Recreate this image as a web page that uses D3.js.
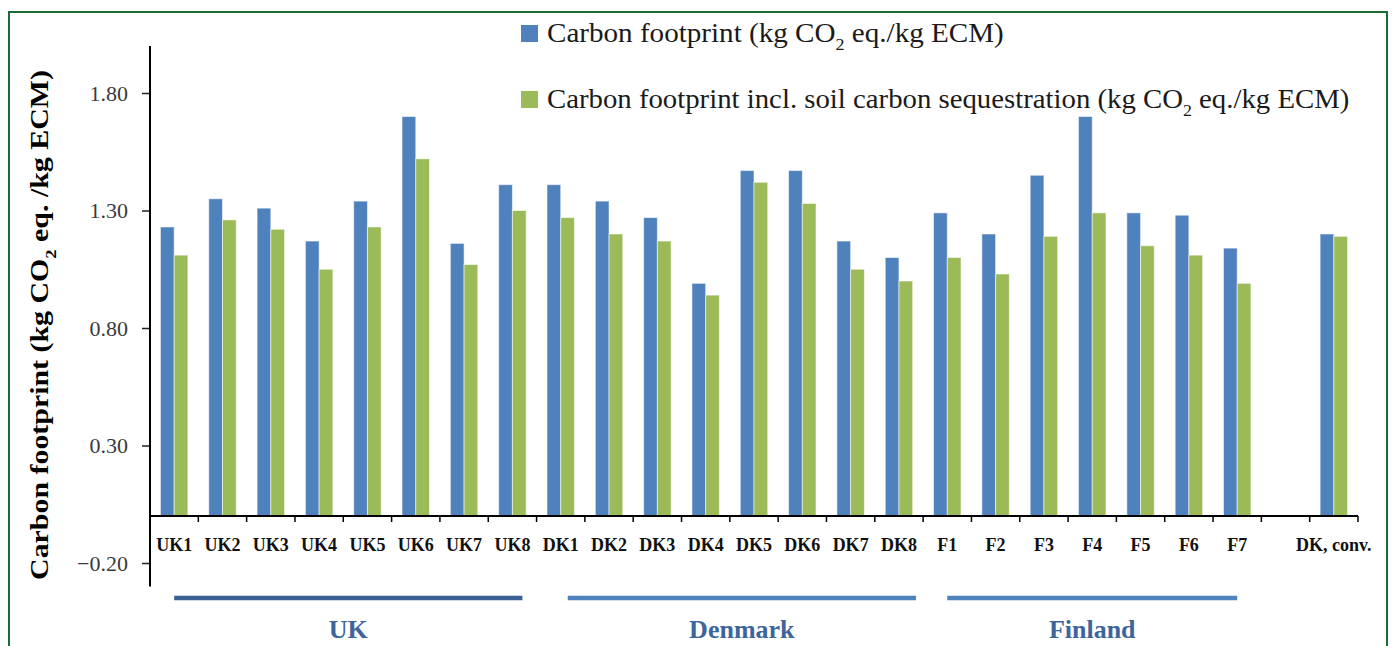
<!DOCTYPE html>
<html>
<head>
<meta charset="utf-8">
<script src="https://cdn.jsdelivr.net/npm/d3@7"></script>
<style>
  body { margin: 0; background: #fff; }
</style>
</head>
<body>
<div id="vis"></div>
<script>
// ----------------
// 1. Data
// ----------------
const categories = ["UK1", "UK2", "UK3", "UK4", "UK5", "UK6", "UK7", "UK8",
    "DK1", "DK2", "DK3", "DK4", "DK5", "DK6", "DK7", "DK8",
    "F1", "F2", "F3", "F4", "F5", "F6", "F7", "", "DK, conv."];

const footprint = [1.23, 1.35, 1.31, 1.17, 1.34, 1.70, 1.16, 1.41,
    1.41, 1.34, 1.27, 0.99, 1.47, 1.47, 1.17, 1.10,
    1.29, 1.20, 1.45, 1.70, 1.29, 1.28, 1.14, null, 1.20];

const footprintSoil = [1.11, 1.26, 1.22, 1.05, 1.23, 1.52, 1.07, 1.30,
    1.27, 1.20, 1.17, 0.94, 1.42, 1.33, 1.05, 1.00,
    1.10, 1.03, 1.19, 1.29, 1.15, 1.11, 0.99, null, 1.19];

const seriesNames = ["Carbon footprint", "Carbon footprint incl. soil carbon sequestration"];
const yTicks = [-0.2, 0.3, 0.8, 1.3, 1.8];

const groupNames = ["UK", "Denmark", "Finland"];
const groupFirst = [0, 8, 16];
const groupLast = [7, 15, 22];

// ----------------
// 2. Dimensions
// ----------------
const width = 1394, height = 646;
const FONT = '"Liberation Serif", "Times New Roman", serif';
const colors = ["#4F81BD", "#9BBB59"];
const groupLineColors = ["#3A6294", "#4F81BD", "#4F81BD"];
// hand-drawn bracket lines do not hit category centres exactly
const groupOffsets = [[0, 10], [7, 17], [0, 0]];

const svg = d3.select("#vis")
    .append("svg")
    .attr("width", width)
    .attr("height", height);

// frame
svg.append("rect")
    .attr("x", 9).attr("y", 12)
    .attr("width", 1378).attr("height", 700)
    .attr("fill", "none")
    .attr("stroke", "#1d6b35")
    .attr("stroke-width", 2);

// ----------------
// 3. Scales
// ----------------
const idx = categories.map((d, i) => i);
const x = d3.scaleBand().domain(idx).range([150, 1358]);
const x1 = d3.scaleBand().domain([0, 1]).range([0, x.bandwidth()]).paddingOuter(0.76);
const y = d3.scaleLinear().domain([-0.2, 2.0]).range([563, 46]);

// ----------------
// 4. Bars
// ----------------
const rows = idx.map(i => [footprint[i], footprintSoil[i]]);

svg.append("g").selectAll("g")
    .data(rows)
    .join("g")
    .attr("transform", (d, i) => `translate(${x(i)},0)`)
    .selectAll("rect")
    .data(d => d.map((v, s) => ({v, s})).filter(e => e.v != null))
    .join("rect")
    .attr("x", d => x1(d.s))
    .attr("width", x1.bandwidth())
    .attr("y", d => y(d.v))
    .attr("height", d => y(0) - y(d.v))
    .attr("fill", d => colors[d.s])
    .attr("stroke", "rgba(255,255,255,0.55)")
    .attr("stroke-width", 1);

// ----------------
// 5. Axes
// ----------------
const yAxis = svg.append("g")
    .attr("transform", "translate(150,0)")
    .call(d3.axisLeft(y).tickValues(yTicks).tickSize(8).tickPadding(14)
        .tickFormat(d => d < 0 ? "\u2212" + Math.abs(d).toFixed(2) : d.toFixed(2)));
yAxis.select(".domain").remove();
yAxis.selectAll("line").attr("stroke", "#222").attr("stroke-width", 1.5);
yAxis.selectAll("text")
    .attr("fill", "#3a3a3a")
    .style("font-size", "22px")
    .style("font-family", FONT);
svg.append("line")
    .attr("x1", 150).attr("x2", 150)
    .attr("y1", y(2.0)).attr("y2", y(-0.3))
    .attr("stroke", "#000").attr("stroke-width", 2);

// category axis at zero
const xAxis = svg.append("g")
    .attr("transform", `translate(0,${y(0)})`);
xAxis.append("line")
    .attr("x1", 150).attr("x2", 1358)
    .attr("stroke", "#000").attr("stroke-width", 2);
xAxis.selectAll(".tk")
    .data(idx.map(i => i + 1))
    .join("line")
    .attr("class", "tk")
    .attr("x1", i => x(i - 1) + x.bandwidth())
    .attr("x2", i => x(i - 1) + x.bandwidth())
    .attr("y1", 0).attr("y2", 6)
    .attr("stroke", "#000").attr("stroke-width", 1.5);
xAxis.selectAll(".lbl")
    .data(idx)
    .join("text")
    .attr("class", "lbl")
    .attr("x", i => x(i) + x.bandwidth() / 2)
    .attr("y", 35)
    .attr("text-anchor", "middle")
    .attr("fill", "#111")
    .style("font-size", "18px")
    .style("font-weight", "bold")
    .style("font-family", FONT)
    .text(i => categories[i]);

// ----------------
// 6. Country groups
// ----------------
const groups = svg.append("g");
groupNames.forEach((name, g) => {
    const x0 = x(groupFirst[g]) + x.bandwidth() / 2 + groupOffsets[g][0];
    const x2 = x(groupLast[g]) + x.bandwidth() / 2 + groupOffsets[g][1];
    groups.append("line")
        .attr("x1", x0).attr("x2", x2)
        .attr("y1", 598).attr("y2", 598)
        .attr("stroke", groupLineColors[g])
        .attr("stroke-width", 4.5);
    groups.append("text")
        .attr("x", (x0 + x2) / 2)
        .attr("y", 638)
        .attr("text-anchor", "middle")
        .attr("fill", "#3D659B")
        .style("font-size", "26px")
        .style("font-weight", "bold")
        .style("font-family", FONT)
        .text(name);
});

// ----------------
// 7. Text helpers (CO2 subscript)
// ----------------
function co2Text(sel, before, after, size) {
    sel.append("tspan").text(before + "CO");
    sel.append("tspan").attr("dy", size * 0.3).style("font-size", (size * 0.62) + "px").text("2");
    sel.append("tspan").attr("dy", -size * 0.3).text(after);
}

function fitWidth(node, target) {
    const w = node.getComputedTextLength();
    return target / w;
}

// legend
const legendY = [42, 108];
const legendEnd = [1004, 1350];
seriesNames.forEach((name, s) => {
    svg.append("rect")
        .attr("x", 521).attr("y", legendY[s] - 17)
        .attr("width", 17).attr("height", 17)
        .attr("fill", colors[s]);
    const t = svg.append("text")
        .attr("fill", "#1a1a1a")
        .style("font-size", "28px")
        .style("font-family", FONT);
    co2Text(t, name + " (kg ", " eq./kg ECM)", 28);
    const k = fitWidth(t.node(), legendEnd[s] - 547);
    t.attr("transform", `translate(547,${legendY[s]}) scale(${k},1)`);
});

// y axis title
const yt = svg.append("text")
    .attr("fill", "#000")
    .attr("text-anchor", "middle")
    .style("font-size", "25px")
    .style("font-weight", "bold")
    .style("font-family", FONT);
co2Text(yt, "Carbon footprint (kg ", " eq. /kg ECM)", 25);
const ky = fitWidth(yt.node(), 510);
yt.attr("transform", `translate(48,325) rotate(-90) scale(${ky},1)`);
</script>
</body>
</html>
